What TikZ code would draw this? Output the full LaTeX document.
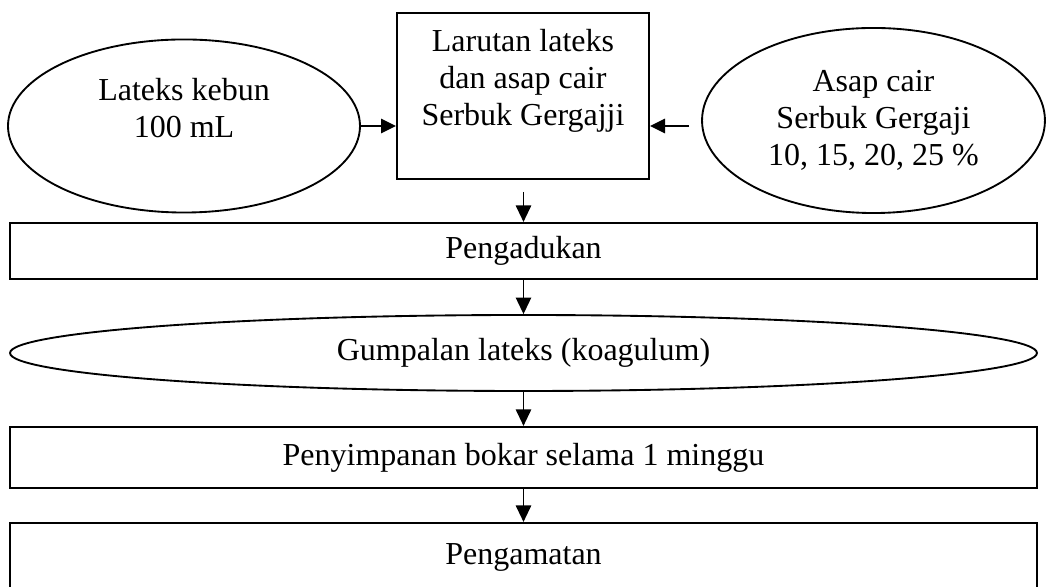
\documentclass[tikz,border=0pt]{standalone}
\usepackage{fontspec}
\setmainfont{Liberation Serif}
\usetikzlibrary{shapes.geometric, arrows.meta, positioning}

\begin{document}
\begin{tikzpicture}[x=0.375pt, y=-0.375pt]
    \tikzstyle{bahan} = [ellipse, draw=black, line width=0.7pt, inner sep=0pt, align=center, font=\fontsize{12}{13.8}\selectfont]
    \tikzstyle{proses} = [rectangle, draw=black, line width=0.8pt, inner sep=0pt, align=center, font=\fontsize{12}{13.8}\selectfont]
    \tikzstyle{arrow} = [line width=0.6pt, -{Triangle[length=5.6pt, width=5.4pt]}]
    \tikzstyle{arrowdown} = [line width=0.5pt, -{Triangle[length=6.2pt, width=5.8pt]}]

    \useasboundingbox (0,0) rectangle (1049,587);

    \node[bahan, minimum width=132pt, minimum height=64.9pt] (lateks) at (184,126) {Lateks kebun\\100 mL\\~};
    \node[proses, minimum width=94.5pt, minimum height=62.3pt] (larutan) at (523,96) {Larutan lateks\\dan asap cair\\Serbuk Gergajji\\~};
    \node[bahan, minimum width=128.6pt, minimum height=69.4pt] (asap) at (873.5,120.5) {Asap cair\\Serbuk Gergaji\\10, 15, 20, 25 \%};
    \node[proses, minimum width=384.8pt, minimum height=21pt] (pengadukan) at (523.5,251) {Pengadukan};
    \node[bahan, minimum width=385.1pt, minimum height=28.5pt] (gumpalan) at (523.5,353) {Gumpalan lateks (koagulum)};
    \node[proses, minimum width=385.1pt, minimum height=22.9pt] (penyimpanan) at (523.5,457.5) {Penyimpanan bokar selama 1 minggu};
    \node[proses, minimum width=385.1pt, minimum height=36pt, text depth=12.4pt] (pengamatan) at (523.5,571) {Pengamatan};

    \coordinate (asapout) at (689,126);
    \coordinate (larutanout) at (523.5,192);

    \draw[arrow] (lateks.east |- asapout) -- (larutan.west |- asapout);
    \draw[arrow] (asapout) -- (larutan.east |- asapout);
    \draw[arrowdown] (larutanout) -- (pengadukan.north);
    \draw[arrowdown] (pengadukan) -- (gumpalan);
    \draw[arrowdown] (gumpalan) -- (penyimpanan);
    \draw[arrowdown] (penyimpanan) -- (pengamatan);
\end{tikzpicture}
\end{document}
